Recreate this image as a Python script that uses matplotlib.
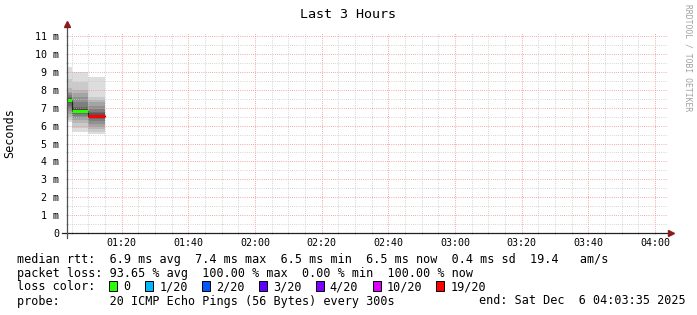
import datetime
import matplotlib
matplotlib.use('Agg')
import matplotlib.pyplot as plt
import matplotlib.dates as mdates
from matplotlib.patches import Rectangle
from matplotlib.ticker import MultipleLocator, FuncFormatter

plt.rcParams['font.family'] = 'DejaVu Sans Mono'

W, H = 697, 315
DAY = '2025-12-06'

# graph window
t_start = datetime.datetime(2025, 12, 6, 1, 3, 35)
t_end = datetime.datetime(2025, 12, 6, 4, 3, 35)

# 5 minute steps, 20 pings each (sorted, ms)
step_end = ['01:05', '01:10', '01:15']
pings_a = [6.2, 6.3, 6.5, 6.65, 6.8, 6.95, 7.1, 7.25, 7.35, 7.4,
           7.43, 7.5, 7.55, 7.62, 7.7, 7.8, 7.9, 8.1, 8.6, 9.3]
pings_b = [5.66, 5.85, 6.13, 6.3, 6.45, 6.55, 6.65, 6.72, 6.78, 6.83,
           6.87, 6.95, 7.0, 7.06, 7.3, 7.6, 7.8, 8.0, 8.45, 8.98]
pings_c = [5.55, 5.66, 5.8, 5.94, 6.1, 6.25, 6.35, 6.42, 6.48, 6.53,
           6.56, 6.62, 6.7, 6.78, 6.95, 7.1, 7.3, 7.45, 7.62, 8.73]
median_rtt = [7.41, 6.84, 6.54]
step_loss = ['0', '0', '19/20']

loss_labels = ['0', '1/20', '2/20', '3/20', '4/20', '10/20', '19/20']
loss_colors = ['#26ff00', '#00b8ff', '#0059ff', '#5e00ff', '#7e00ff', '#dd00ff', '#ff0000']

legend_rtt = "median rtt:  6.9 ms avg  7.4 ms max  6.5 ms min  6.5 ms now  0.4 ms sd  19.4   am/s"
legend_loss = "packet loss: 93.65 % avg  100.00 % max  0.00 % min  100.00 % now"
legend_probe = "probe:       20 ICMP Echo Pings (56 Bytes) every 300s"
legend_end = "end: Sat Dec  6 04:03:35 2025"


def px(x):
    return x / W


def py(y):
    return 1 - y / H


fig = plt.figure(figsize=(W / 100, H / 100), dpi=100)
ax = fig.add_axes([px(67), py(233), 600 / W, 200 / H])

ends = [datetime.datetime.fromisoformat(f'{DAY} {t}:00') for t in step_end]
starts = [e - datetime.timedelta(seconds=300) for e in ends]
all_pings = [pings_a, pings_b, pings_c]

# smoke, smokeping style: outer pairs light, inner pairs dark
n = 20
half = n / 2
for s, e, p in zip(starts, ends, all_pings):
    for ibot in range(1, int(half) + 1):
        itop = n + 1 - ibot
        g = int(190 / half * (half - ibot)) + 50
        col = '#%02x%02x%02x' % (g, g, g)
        ax.fill_between([s, e], p[ibot - 1], p[itop - 1], color=col, lw=0, zorder=1)

# black median step line
xs, ys = [], []
for s, e, m in zip(starts, ends, median_rtt):
    xs += [s, e]
    ys += [m, m]
ax.plot(xs, ys, color='#202020', lw=0.8, zorder=3)

# loss coloured median
for s, e, m, l in zip(starts, ends, median_rtt, step_loss):
    ax.hlines(m, s, e, color=loss_colors[loss_labels.index(l)], lw=2.2, zorder=4)

ax.set_xlim(t_start, t_end)
ax.set_ylim(0, 200 / 17.9)

ax.xaxis.set_major_locator(mdates.MinuteLocator(byminute=[0, 20, 40]))
ax.xaxis.set_minor_locator(mdates.MinuteLocator(byminute=range(0, 60, 5)))
ax.xaxis.set_major_formatter(mdates.DateFormatter('%H:%M'))
ax.yaxis.set_major_locator(MultipleLocator(1))
ax.yaxis.set_minor_locator(MultipleLocator(0.5))
ax.yaxis.set_major_formatter(FuncFormatter(lambda v, _: '0' if v == 0 else f'{int(round(v))} m'))

dots = (0, (0.72, 1.44))
ax.grid(which='minor', color='#c8c8c8', lw=0.72, linestyle=dots)
ax.grid(which='major', color='#f09090', lw=0.72, linestyle=dots)
ax.set_axisbelow(False)

for sp in ax.spines.values():
    sp.set_visible(False)
ax.tick_params(which='both', length=1.5, width=0.6, color='#b0b0b0', direction='inout')
ax.tick_params(axis='x', labelsize=7.2, pad=3)
ax.tick_params(axis='y', labelsize=7.2, pad=5)

# axes lines with arrows
ax.plot([-5 / 600, 601 / 600], [0, 0], transform=ax.transAxes, color='#202020',
        lw=0.9, clip_on=False, zorder=5)
ax.plot([0, 0], [-5 / 200, 1.03], transform=ax.transAxes, color='#505050',
        lw=0.9, clip_on=False, zorder=5)
ax.plot([1.006], [0], transform=ax.transAxes, marker='>', ms=5, color='#8b1a1a',
        clip_on=False, zorder=6)
ax.plot([0], [1.045], transform=ax.transAxes, marker='^', ms=5, color='#8b1a1a',
        clip_on=False, zorder=6)

fig.text(px(348), py(14), 'Last 3 Hours', ha='center', va='center', fontsize=9.6)
fig.text(px(10), py(133), 'Seconds', ha='center', va='center', rotation=90, fontsize=8.5)
fig.text(px(688), py(4), 'RRDTOOL / TOBI OETIKER', ha='center', va='top', rotation=270,
         fontsize=5.8, color='#a0a0a0')

cw = 7.11
fs = 8.5
fig.text(px(17), py(259), legend_rtt, ha='left', va='center', fontsize=fs)
fig.text(px(17), py(273), legend_loss, ha='left', va='center', fontsize=fs)
fig.text(px(17), py(287), 'loss color:', ha='left', va='center', fontsize=fs)
c = 13
for lab, col in zip(loss_labels, loss_colors):
    x0 = 17 + c * cw
    fig.patches.append(Rectangle((px(x0), py(291)), 8 / W, 10 / H, transform=fig.transFigure,
                                 facecolor=col, edgecolor='black', lw=0.7))
    fig.text(px(17 + (c + 2) * cw), py(287), lab, ha='left', va='center', fontsize=fs)
    c += 2 + len(lab) + 2
fig.text(px(17), py(301), legend_probe, ha='left', va='center', fontsize=fs)
fig.text(px(17 + 65 * cw), py(301), legend_end, ha='left', va='center', fontsize=fs)

fig.savefig('out.png', dpi=100, facecolor='white')
